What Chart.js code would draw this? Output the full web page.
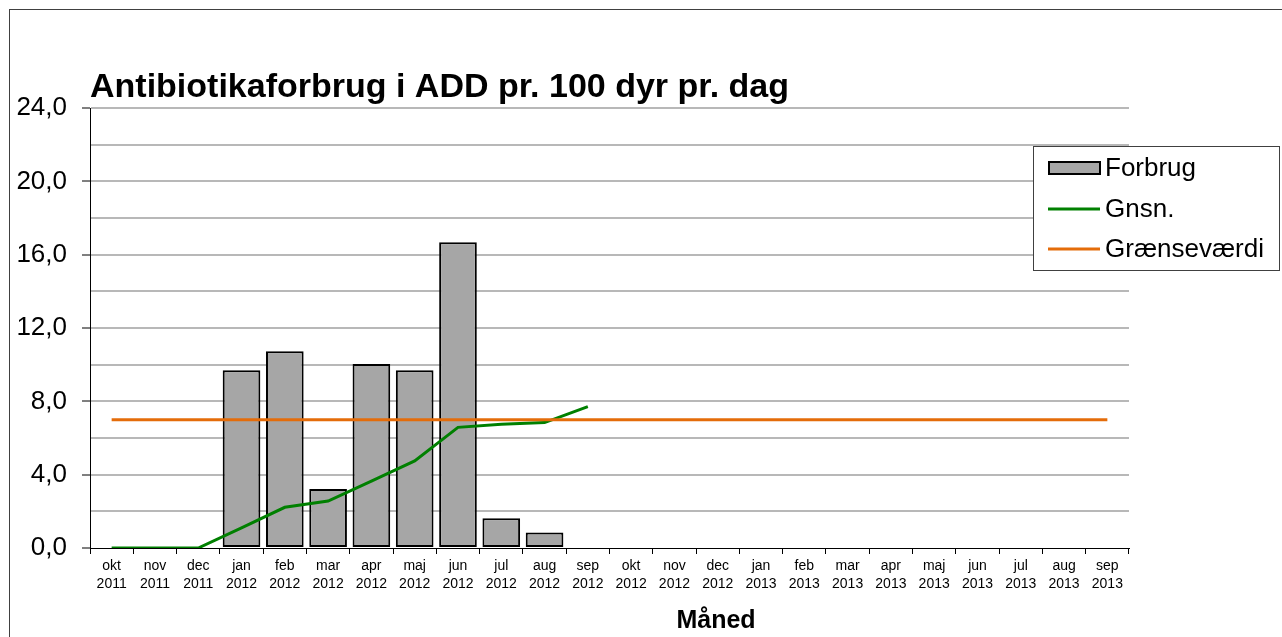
<!DOCTYPE html>
<html>
<head>
<meta charset="utf-8">
<script src="https://cdn.jsdelivr.net/npm/chart.js@4/dist/chart.umd.min.js"></script>
<style>
  html, body { margin: 0; padding: 0; background: #fff; }
  #wrap { position: relative; width: 1282px; height: 637px; overflow: hidden; }
  #frame { position: absolute; left: 9px; top: 9px; width: 1400px; height: 800px; border-left: 1px solid #404040; border-top: 1px solid #404040; box-sizing: border-box; pointer-events: none; }
  canvas { position: absolute; left: 0; top: 0; }
</style>
</head>
<body>
<div id="wrap">
  <canvas id="c" width="1282" height="637"></canvas>
  <div id="frame"></div>
</div>
<script>
const months = ["okt","nov","dec","jan","feb","mar","apr","maj","jun","jul","aug","sep","okt","nov","dec","jan","feb","mar","apr","maj","jun","jul","aug","sep"];
const years = ["2011","2011","2011","2012","2012","2012","2012","2012","2012","2012","2012","2012","2012","2012","2012","2013","2013","2013","2013","2013","2013","2013","2013","2013"];
const forbrug = [0, 0, 0, 9.7, 10.73, 3.22, 10.04, 9.7, 16.68, 1.62, 0.84, null, null, null, null, null, null, null, null, null, null, null, null, null];
const gnsn = [0, 0, 0, 1.1, 2.22, 2.56, 3.65, 4.75, 6.58, 6.75, 6.84, 7.71, null, null, null, null, null, null, null, null, null, null, null, null];
const graensevaerdi = [7, 7, 7, 7, 7, 7, 7, 7, 7, 7, 7, 7, 7, 7, 7, 7, 7, 7, 7, 7, 7, 7, 7, 7];
const titleText = "Antibiotikaforbrug i ADD pr. 100 dyr pr. dag";
const xTitle = "Måned";

const labels = months.map((m, i) => [m, years[i]]);
const FONT = "'Liberation Sans', Arial, sans-serif";

const overlay = {
  id: 'overlay',
  afterDraw(chart) {
    const ctx = chart.ctx;
    const area = chart.chartArea;
    ctx.save();
    // Title
    ctx.fillStyle = '#000';
    ctx.font = 'bold 34px ' + FONT;
    ctx.textBaseline = 'alphabetic';
    ctx.textAlign = 'left';
    ctx.fillText(titleText, area.left, 97);
    // X axis title
    ctx.font = 'bold 25px ' + FONT;
    ctx.textAlign = 'center';
    ctx.textBaseline = 'alphabetic';
    ctx.fillText(xTitle, 716, 628);
    // Legend
    const lx = 1033.5, ly = 146.5, lw = 246, lh = 124;
    ctx.fillStyle = '#fff';
    ctx.fillRect(lx, ly, lw, lh);
    ctx.strokeStyle = '#404040';
    ctx.lineWidth = 1;
    ctx.strokeRect(lx, ly, lw, lh);
    const ds = chart.data.datasets;
    const rows = [168, 209, 249];
    ctx.font = '26px ' + FONT;
    ctx.textAlign = 'left';
    ctx.textBaseline = 'middle';
    ds.forEach((d, i) => {
      const y = rows[i];
      if (d.type === 'bar') {
        ctx.fillStyle = d.backgroundColor;
        ctx.fillRect(1049, y - 6, 51, 12);
        ctx.strokeStyle = '#000';
        ctx.lineWidth = 2;
        ctx.strokeRect(1049, y - 6, 51, 12);
      } else {
        ctx.strokeStyle = d.borderColor;
        ctx.lineWidth = 3;
        ctx.beginPath();
        ctx.moveTo(1048, y);
        ctx.lineTo(1100, y);
        ctx.stroke();
      }
      ctx.fillStyle = '#000';
      ctx.fillText(d.label, 1105, y + 1);
    });
    ctx.restore();
  }
};

new Chart(document.getElementById('c'), {
  data: {
    labels: labels,
    datasets: [
      {
        type: 'bar', label: 'Forbrug', data: forbrug,
        backgroundColor: '#a6a6a6', borderColor: '#000', borderWidth: 2, borderSkipped: false,
        categoryPercentage: 1.0, barPercentage: 0.87, order: 2
      },
      {
        type: 'line', label: 'Gnsn.', data: gnsn,
        borderColor: '#008000', backgroundColor: '#008000', borderWidth: 3,
        pointRadius: 0, tension: 0, spanGaps: false, order: 1
      },
      {
        type: 'line', label: 'Grænseværdi', data: graensevaerdi,
        borderColor: '#e46c0a', backgroundColor: '#e46c0a', borderWidth: 3,
        pointRadius: 0, tension: 0, order: 0
      }
    ]
  },
  options: {
    responsive: false,
    animation: false,
    layout: { padding: { left: 0, top: 108, right: 153, bottom: 0 } },
    plugins: { legend: { display: false }, title: { display: false }, tooltip: { enabled: false } },
    scales: {
      x: {
        type: 'category',
        offset: true,
        grid: { display: true, drawOnChartArea: false, drawTicks: true, tickLength: 6, offset: true, tickColor: '#000', tickWidth: 1 },
        border: { display: true, color: '#000', width: 1 },
        ticks: { color: '#000', font: { family: FONT, size: 14, lineHeight: 1.3 }, padding: 3, maxRotation: 0, autoSkip: false },
        afterFit(scale) { scale.height = 89; }
      },
      y: {
        min: 0, max: 24,
        ticks: {
          stepSize: 2, color: '#000', padding: 15,
          font: { family: FONT, size: 26 },
          callback: (v) => (v % 4 === 0 ? v.toFixed(1).replace('.', ',') : '')
        },
        grid: {
          color: (c) => (c.tick && c.tick.value === 0 ? 'rgba(0,0,0,0)' : '#b8b8b8'),
          lineWidth: 2,
          tickLength: 8,
          tickColor: (c) => (c.tick && c.tick.value % 4 === 0 ? '#000' : 'rgba(0,0,0,0)'),
          tickWidth: 1
        },
        border: { display: true, color: '#000', width: 1 },
        afterFit(scale) { scale.width = 90; }
      }
    }
  },
  plugins: [overlay]
});
</script>
</body>
</html>
